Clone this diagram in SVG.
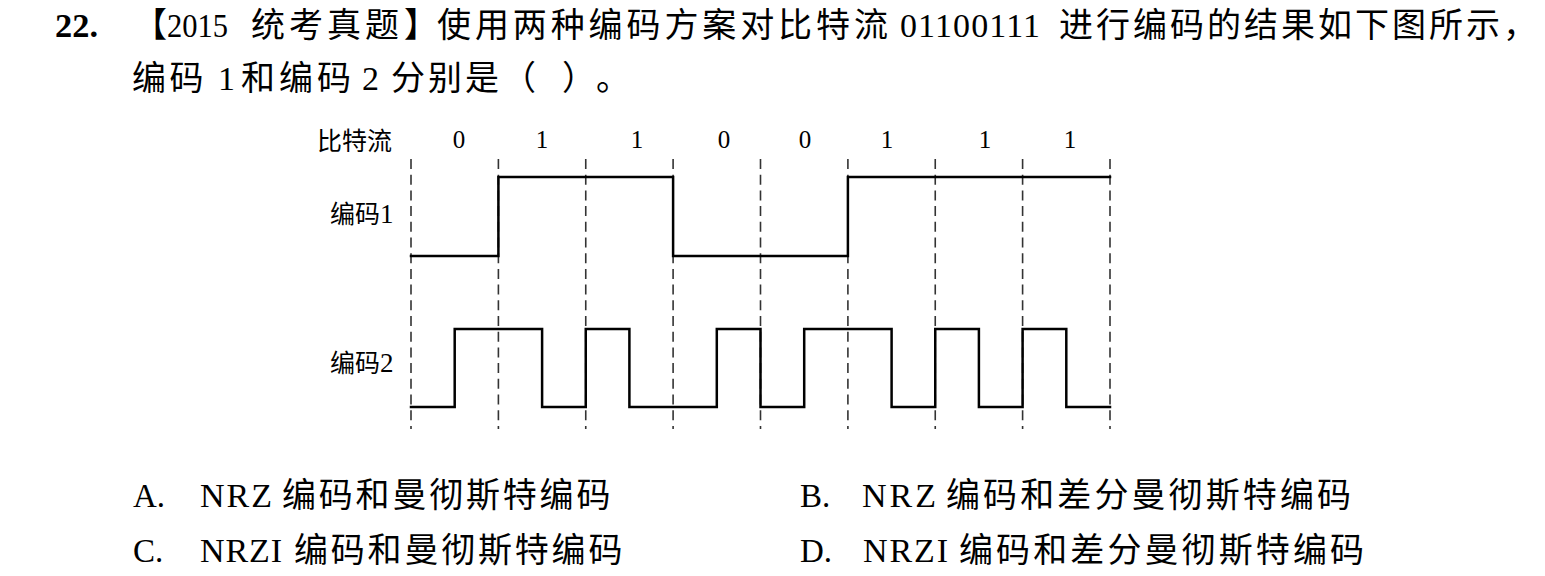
<svg xmlns="http://www.w3.org/2000/svg" width="1545" height="576" viewBox="0 0 1545 576">
<style>
.lat{font-family:"Liberation Serif","Times New Roman",serif;fill:#000}
.cjk{font-family:"Noto Sans CJK SC","Noto Sans CJK JP",sans-serif;fill:#000}
.h{font-size:34px}
.dig{font-family:"Liberation Serif",serif;font-size:25px;fill:#000;text-anchor:middle}
.grid{stroke:#333;stroke-width:1.6;stroke-dasharray:10 5.7;fill:none}
.wave{stroke:#000;stroke-width:2.5;fill:none;stroke-linejoin:miter;stroke-linecap:square}
</style>
<rect width="1545" height="576" fill="#fff"/>
<g id="question">
<text class="lat" x="55" y="37" font-size="33" font-weight="bold" textLength="43" lengthAdjust="spacingAndGlyphs">22.</text>
<text class="cjk h" x="133" y="37">【</text>
<text class="lat" x="167" y="37" font-size="34" textLength="61" lengthAdjust="spacingAndGlyphs">2015</text>
<text class="cjk h" x="251" y="37" letter-spacing="4">统考真题</text>
<text class="cjk h" x="404" y="37">】</text>
<text class="cjk h" x="437" y="37" letter-spacing="3.9">使用两种编码方案对比特流</text>
<text class="lat" x="900" y="37" font-size="34" textLength="140">01100111</text>
<text class="cjk h" x="1059" y="37" letter-spacing="3">进行编码的结果如下图所示，</text>
<text class="cjk h" x="132" y="90" letter-spacing="3.5">编码</text>
<text class="lat" x="218" y="90" font-size="34">1</text>
<text class="cjk h" x="241" y="90" letter-spacing="4">和编码</text>
<text class="lat" x="362" y="90" font-size="34">2</text>
<text class="cjk h" x="391" y="90" letter-spacing="3">分别是（</text>
<text class="cjk h" x="562" y="90">）</text>
<text class="cjk h" x="596" y="90">。</text>
</g>
<g id="labels">
<text class="cjk" x="317" y="150" font-size="25">比特流</text>
<text class="cjk" x="330" y="223" font-size="25">编码</text>
<text class="lat" x="380" y="223" font-size="27">1</text>
<text class="cjk" x="330" y="372" font-size="25">编码</text>
<text class="lat" x="380" y="372" font-size="27">2</text>
</g>
<g id="bits">
<text class="dig" x="459" y="148">0</text>
<text class="dig" x="542" y="148">1</text>
<text class="dig" x="637" y="148">1</text>
<text class="dig" x="724" y="148">0</text>
<text class="dig" x="805" y="148">0</text>
<text class="dig" x="887" y="148">1</text>
<text class="dig" x="985" y="148">1</text>
<text class="dig" x="1070" y="148">1</text>
</g>
<g id="grid">
<line class="grid" x1="411" y1="159" x2="411" y2="429"/>
<line class="grid" x1="498.4" y1="159" x2="498.4" y2="429"/>
<line class="grid" x1="585.75" y1="159" x2="585.75" y2="429"/>
<line class="grid" x1="673.1" y1="159" x2="673.1" y2="429"/>
<line class="grid" x1="760.5" y1="159" x2="760.5" y2="429"/>
<line class="grid" x1="847.9" y1="159" x2="847.9" y2="429"/>
<line class="grid" x1="935.25" y1="159" x2="935.25" y2="429"/>
<line class="grid" x1="1022.6" y1="159" x2="1022.6" y2="429"/>
<line class="grid" x1="1110" y1="159" x2="1110" y2="429"/>
</g>
<g id="code1">
<path class="wave" d="M411,256 H498.4 V177 H673.1 V256 H847.9 V177 H1110"/>
</g>
<g id="code2">
<path class="wave" d="M411,407 H454.7 V329 H542.1 V407 H585.75 V329 H629.4 V407 H716.8 V329 H760.5 V407 H804.2 V329 H891.6 V407 H935.25 V329 H978.9 V407 H1022.6 V329 H1066.3 V407 H1110"/>
</g>
<g id="options">
<text class="lat" x="133" y="507" font-size="33">A.</text>
<text class="lat" x="200" y="507" font-size="34" textLength="72">NRZ</text>
<text class="cjk h" x="282" y="507" letter-spacing="2.8">编码和曼彻斯特编码</text>
<text class="lat" x="800" y="507" font-size="33">B.</text>
<text class="lat" x="862" y="507" font-size="34" textLength="74">NRZ</text>
<text class="cjk h" x="946" y="507" letter-spacing="3.1">编码和差分曼彻斯特编码</text>
<text class="lat" x="133" y="562" font-size="33">C.</text>
<text class="lat" x="200" y="562" font-size="34" textLength="82">NRZI</text>
<text class="cjk h" x="294" y="562" letter-spacing="2.8">编码和曼彻斯特编码</text>
<text class="lat" x="800" y="562" font-size="33">D.</text>
<text class="lat" x="863" y="562" font-size="34" textLength="85">NRZI</text>
<text class="cjk h" x="959" y="562" letter-spacing="3.1">编码和差分曼彻斯特编码</text>
</g>
</svg>
